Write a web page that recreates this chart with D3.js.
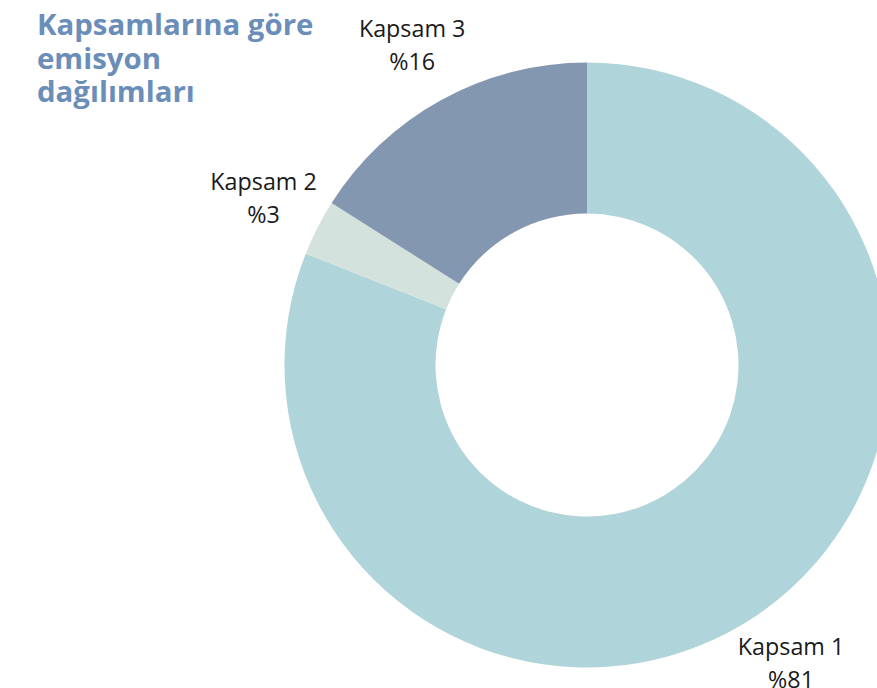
<!DOCTYPE html>
<html><head><meta charset="utf-8">
<script src="https://cdn.jsdelivr.net/npm/d3@7"></script>
<style>body{margin:0;background:#fff;}svg{display:block;}</style>
</head><body>
<script>
const categories = ["Kapsam 1", "Kapsam 2", "Kapsam 3"];
const values = [81, 3, 16];
const valueLabels = ["%81", "%3", "%16"];
const colors = ["#afd4da", "#d3e2dc", "#8497b0"];
const titleLines = ["Kapsamlarına göre", "emisyon", "dağılımları"];

const W = 877, H = 688;
const svg = d3.select("body").append("svg").attr("width", W).attr("height", H);
const cx = 587, cy = 365, rOuter = 302.5, rInner = 151.5, rLabel = 363;

const data = categories.map((c, i) => ({cat: c, value: values[i], label: valueLabels[i], color: colors[i]}));
const pie = d3.pie().value(d => d.value).sort(null);
const arcs = pie(data);
const arc = d3.arc().innerRadius(rInner).outerRadius(rOuter);
const labelArc = d3.arc().innerRadius(rLabel).outerRadius(rLabel);

const g = svg.append("g").attr("transform", `translate(${cx},${cy})`);
g.selectAll("path").data(arcs).join("path")
  .attr("d", arc).attr("fill", d => d.data.color);

const lab = g.selectAll("text.lab").data(arcs).join("text")
  .attr("class", "lab")
  .attr("transform", d => { const [x, y] = labelArc.centroid(d); return `translate(${x},${y})`; })
  .attr("text-anchor", "middle")
  .attr("font-family", "'Open Sans', sans-serif")
  .attr("font-size", 23.3)
  .attr("fill", "#1a1a1a");
lab.append("tspan").attr("x", 0).attr("y", -10).text(d => d.data.cat);
lab.append("tspan").attr("x", 0).attr("y", 23).text(d => d.data.label);

const title = svg.append("text")
  .attr("font-family", "'Open Sans', sans-serif")
  .attr("font-weight", "bold")
  .attr("font-size", 29.4)
  .attr("fill", "#6b8eb9");
titleLines.forEach((t, i) => {
  title.append("tspan").attr("x", 37).attr("y", 35 + i * 33.5).text(t);
});
</script>
</body></html>
